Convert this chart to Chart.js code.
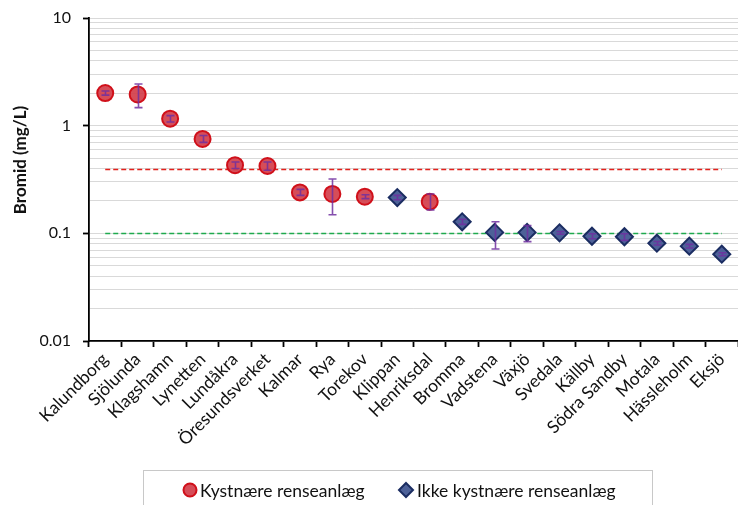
<!DOCTYPE html>
<html>
<head>
<meta charset="utf-8">
<script src="https://cdn.jsdelivr.net/npm/chart.js@4/dist/chart.umd.min.js"></script>
<style>
  html, body { margin: 0; padding: 0; background: #fff; }
  #wrap { width: 738px; height: 505px; position: relative; }
</style>
</head>
<body>
<div id="wrap"><canvas id="c"></canvas></div>
<script>
// Treatment plants, ordered by bromide concentration
const categories = ['Kalundborg', 'Sjölunda', 'Klagshamn', 'Lynetten', 'Lundåkra', 'Öresundsverket',
  'Kalmar', 'Rya', 'Torekov', 'Klippan', 'Henriksdal', 'Bromma', 'Vadstena', 'Växjö', 'Svedala',
  'Källby', 'Södra Sandby', 'Motala', 'Hässleholm', 'Eksjö'];
// Mean bromide (mg/L)
const bromide = [2.01, 1.95, 1.16, 0.753, 0.429, 0.422, 0.240, 0.232, 0.219, 0.215, 0.197,
  0.128, 0.102, 0.102, 0.101, 0.094, 0.093, 0.081, 0.076, 0.064];
// Coastal plant (true) or inland plant (false)
const coastal = [true, true, true, true, true, true, true, true, true, false, true,
  false, false, false, false, false, false, false, false, false];
// Lower / upper end of the spread (mg/L)
const errLow = [1.92, 1.47, 1.08, 0.70, 0.40, 0.385, 0.225, 0.149, 0.210, 0.205, 0.165,
  0.121, 0.0716, 0.0837, 0.098, 0.089, 0.086, 0.078, 0.073, 0.062];
const errHigh = [2.10, 2.44, 1.24, 0.81, 0.46, 0.46, 0.256, 0.320, 0.228, 0.225, 0.232,
  0.135, 0.128, 0.118, 0.104, 0.099, 0.099, 0.084, 0.079, 0.066];
// Reference levels (mg/L)
const limits = [0.4, 0.1];
const limitColors = ['#E3201B', '#1FAA4E'];
// Labelled decades on the log axis
const yTicks = [0.01, 0.1, 1, 10];
const seriesNames = ['Kystnære renseanlæg', 'Ikke kystnære renseanlæg'];
const yTitle = 'Bromid (mg/L)';

const FONT = 'Lato, "Open Sans", sans-serif';
const red = { fill: 'rgba(210, 62, 74, 0.92)', border: '#D0101A' };
const blue = { fill: '#4D6198', border: '#1B2D62' };

// Gridline values: every 1..9 step within each decade, plus the top decade
const gridValues = [];
for (let d = 0; d < yTicks.length - 1; d++) {
  for (let m = 1; m <= 9; m++) gridValues.push(parseFloat((m * yTicks[d]).toPrecision(3)));
}
gridValues.push(yTicks[yTicks.length - 1]);

const coastalData = bromide.map((v, i) => coastal[i] ? v : null);
const inlandData = bromide.map((v, i) => coastal[i] ? null : v);

const errorBars = {
  id: 'errorBars',
  afterDatasetsDraw(chart) {
    const { ctx, scales: { x, y } } = chart;
    ctx.save();
    ctx.strokeStyle = 'rgba(112, 48, 160, 0.85)';
    ctx.lineWidth = 1.6;
    for (let i = 0; i < bromide.length; i++) {
      const px = Math.round(x.getPixelForValue(i)) + 0.5;
      const yl = y.getPixelForValue(errLow[i]);
      const yh = y.getPixelForValue(errHigh[i]);
      ctx.beginPath();
      ctx.moveTo(px, yl); ctx.lineTo(px, yh);
      ctx.moveTo(px - 4, yl); ctx.lineTo(px + 4, yl);
      ctx.moveTo(px - 4, yh); ctx.lineTo(px + 4, yh);
      ctx.stroke();
    }
    ctx.restore();
  }
};

const limitLines = {
  id: 'limitLines',
  beforeDatasetsDraw(chart) {
    const { ctx, scales: { x, y } } = chart;
    const x0 = x.getPixelForValue(0);
    const x1 = x.getPixelForValue(categories.length - 1);
    ctx.save();
    ctx.lineWidth = 1.7;
    ctx.setLineDash([5, 3]);
    limits.forEach((v, k) => {
      const py = Math.round(y.getPixelForValue(v)) + 0.5;
      ctx.strokeStyle = limitColors[k];
      ctx.beginPath();
      ctx.moveTo(x0, py); ctx.lineTo(x1, py);
      ctx.stroke();
    });
    ctx.restore();
  }
};

// Vertical axis title, beside the upper part of the axis
const axisTitle = {
  id: 'axisTitle',
  afterDraw(chart) {
    const { ctx } = chart;
    ctx.save();
    ctx.font = 'bold 15px ' + FONT;
    const size = Math.min(17, 15 * 112 / ctx.measureText(yTitle).width);
    ctx.font = 'bold ' + size.toFixed(1) + 'px ' + FONT;
    ctx.translate(21, 160);
    ctx.rotate(-Math.PI / 2);
    ctx.fillStyle = '#111';
    ctx.textAlign = 'center';
    ctx.textBaseline = 'middle';
    ctx.fillText(yTitle, 0, 0);
    ctx.restore();
  }
};

const boxedLegend = {
  id: 'boxedLegend',
  afterDraw(chart) {
    const { ctx } = chart;
    ctx.save();
    ctx.strokeStyle = '#C8C8C8';
    ctx.lineWidth = 1;
    ctx.strokeRect(143.5, 470.5, 509, 40);
    const cy = 490;
    ctx.lineWidth = 2;
    ctx.fillStyle = red.fill; ctx.strokeStyle = red.border;
    ctx.beginPath(); ctx.arc(190, cy, 6.5, 0, Math.PI * 2); ctx.fill(); ctx.stroke();
    ctx.fillStyle = blue.fill; ctx.strokeStyle = blue.border;
    ctx.beginPath();
    ctx.moveTo(406, cy - 7); ctx.lineTo(413, cy); ctx.lineTo(406, cy + 7); ctx.lineTo(399, cy);
    ctx.closePath(); ctx.fill(); ctx.stroke();
    ctx.font = '17.5px ' + FONT;
    ctx.fillStyle = '#111';
    ctx.textBaseline = 'middle';
    ctx.fillText(seriesNames[0], 200, cy + 1);
    ctx.fillText(seriesNames[1], 417, cy + 1);
    ctx.restore();
  }
};

new Chart(document.getElementById('c'), {
  type: 'line',
  data: {
    labels: categories,
    datasets: [
      {
        label: seriesNames[0], data: coastalData, showLine: false,
        pointStyle: 'circle', pointRadius: 8, pointHoverRadius: 8, pointBorderWidth: 2,
        pointBackgroundColor: red.fill, pointBorderColor: red.border
      },
      {
        label: seriesNames[1], data: inlandData, showLine: false,
        pointStyle: 'rectRot', pointRadius: 8.5, pointHoverRadius: 8.5, pointBorderWidth: 2,
        pointBackgroundColor: blue.fill, pointBorderColor: blue.border
      }
    ]
  },
  options: {
    responsive: true,
    maintainAspectRatio: false,
    animation: false,
    devicePixelRatio: 1,
    layout: { autoPadding: false, padding: { top: 18, right: 0, bottom: 40, left: 0 } },
    plugins: { legend: { display: false }, tooltip: { enabled: false } },
    scales: {
      x: {
        offset: true,
        grid: { offset: true, drawOnChartArea: false, drawTicks: true, tickLength: 6, color: '#000', tickColor: '#000', tickWidth: 1.8 },
        border: { color: '#000', width: 1.8 },
        ticks: {
          autoSkip: false, minRotation: 45, maxRotation: 45, padding: 2,
          color: '#111', font: { family: FONT, size: 17.5 }
        },
        afterFit(scale) {
          scale.height = 124;
          scale.paddingLeft = 0; scale.paddingRight = 0;
        }
      },
      y: {
        type: 'logarithmic',
        min: 0.01, max: 10,
        afterBuildTicks(scale) {
          scale.ticks = gridValues.map(v => ({ value: v, major: yTicks.includes(v) }));
        },
        grid: {
          color: '#D9D9D9', lineWidth: 1, tickLength: 6, tickWidth: 1.8,
          tickColor: c => (c.tick && yTicks.includes(c.tick.value)) ? '#000' : 'rgba(0,0,0,0)'
        },
        border: { color: '#000', width: 1.8 },
        ticks: {
          autoSkip: false, padding: 12, color: '#111',
          font: { family: FONT, size: 16 },
          callback: v => yTicks.includes(v) ? String(v) : ''
        },
        afterFit(scale) {
          scale.width = 89;
          scale.paddingTop = 0; scale.paddingBottom = 0;
        }
      }
    }
  },
  plugins: [limitLines, errorBars, axisTitle, boxedLegend]
});
</script>
</body>
</html>
